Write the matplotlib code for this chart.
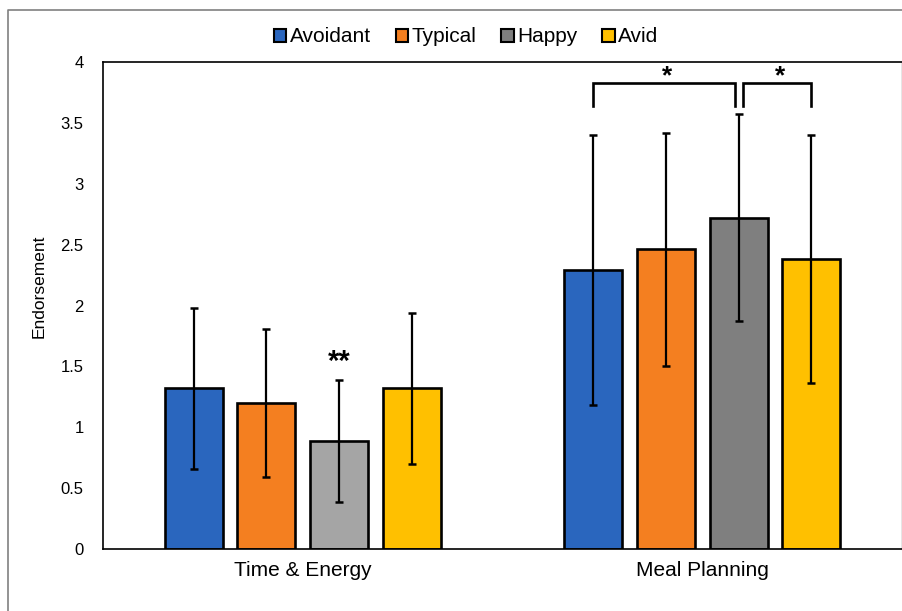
import matplotlib
matplotlib.use("Agg")
import matplotlib.pyplot as plt
from matplotlib.patches import Patch
from matplotlib.lines import Line2D
import numpy as np

plt.rcParams['font.family'] = ['Liberation Sans', 'DejaVu Sans']

categories = ["Time & Energy", "Meal Planning"]
groups = ["Avoidant", "Typical", "Happy", "Avid"]
means = {
    "Avoidant": [1.32, 2.29],
    "Typical": [1.20, 2.46],
    "Happy": [0.89, 2.72],
    "Avid": [1.32, 2.38],
}
err_upper = {
    "Avoidant": [1.98, 3.40],
    "Typical": [1.81, 3.42],
    "Happy": [1.39, 3.57],
    "Avid": [1.94, 3.40],
}
err_lower = {
    "Avoidant": [0.66, 1.18],
    "Typical": [0.59, 1.50],
    "Happy": [0.39, 1.87],
    "Avid": [0.70, 1.36],
}
bar_colors = {
    "Avoidant": ["#2a66be", "#2a66be"],
    "Typical": ["#f47f20", "#f47f20"],
    "Happy": ["#a5a5a5", "#7f7f7f"],
    "Avid": ["#ffc000", "#ffc000"],
}
legend_colors = ["#2a66be", "#f47f20", "#7f7f7f", "#ffc000"]
yticks = [0, 0.5, 1, 1.5, 2, 2.5, 3, 3.5, 4]
ytick_labels = ["0", "0.5", "1", "1.5", "2", "2.5", "3", "3.5", "4"]

W, H = 903, 611
fig = plt.figure(figsize=(W / 100, H / 100), dpi=100)
ax = fig.add_axes([103 / W, (611 - 549) / H, (902 - 103) / W, (549 - 62) / H])

offsets = [-0.2725, -0.091, 0.091, 0.2725]
width = 0.145
xc = np.arange(len(categories))
for g, off in zip(groups, offsets):
    m = np.array(means[g])
    up = np.array(err_upper[g]) - m
    lo = m - np.array(err_lower[g])
    ax.bar(xc + off, m, width=width, color=bar_colors[g], edgecolor="black",
           linewidth=1.9, zorder=2)
    ax.errorbar(xc + off, m, yerr=[lo, up], fmt="none", ecolor="black",
                elinewidth=1.6, capsize=3.0, capthick=1.8, zorder=3)

# significance markers
ax.text(xc[0] + offsets[2], 1.54, "**", ha="center", va="center",
        fontsize=21, fontweight="bold")
x_av = xc[1] + offsets[0]
x_ha = xc[1] + offsets[2]
x_avd = xc[1] + offsets[3]
ytop, ybot = 3.83, 3.64
for xa, xb in [(x_av, x_ha - 0.008), (x_ha + 0.012, x_avd)]:
    ax.plot([xa, xa, xb, xb], [ybot, ytop, ytop, ybot], color="black",
            lw=1.9, solid_joinstyle="miter", zorder=3)
    ax.text((xa + xb) / 2 + 0.008, 3.88, "*", ha="center", va="center",
            fontsize=19, fontweight="bold")

ax.set_xlim(-0.5, 1.5)
ax.set_ylim(0, 4)
ax.set_xticks(xc)
ax.set_xticklabels(categories, fontsize=15)
ax.set_yticks(yticks)
ax.set_yticklabels(ytick_labels, fontsize=12)
ax.tick_params(axis="both", length=0)
ax.tick_params(axis="y", pad=14)
ax.tick_params(axis="x", pad=9)
ax.set_ylabel("Endorsement", fontsize=12.5)
ax.yaxis.set_label_coords(-0.07, 0.54)
for s in ["left", "top", "bottom"]:
    ax.spines[s].set_linewidth(1.2)
    ax.spines[s].set_color("black")
ax.spines["right"].set_color("#808080")
ax.spines["right"].set_linewidth(1.0)

handles = [Patch(facecolor=c, edgecolor="black", linewidth=1.5) for c in legend_colors]
fig.legend(handles, groups, loc="center", bbox_to_anchor=(466 / W, 1 - 37 / H),
           ncol=4, frameon=False, fontsize=15, handlelength=0.6,
           handleheight=0.6, handletextpad=0.15, columnspacing=1.2,
           borderpad=0.1)

# outer frame
fig.add_artist(Line2D([8 / W, 8 / W, 1.0], [0, 1 - 10 / H, 1 - 10 / H],
                      transform=fig.transFigure, color="#808080", lw=1.2))

fig.savefig("out.png", dpi=100)
